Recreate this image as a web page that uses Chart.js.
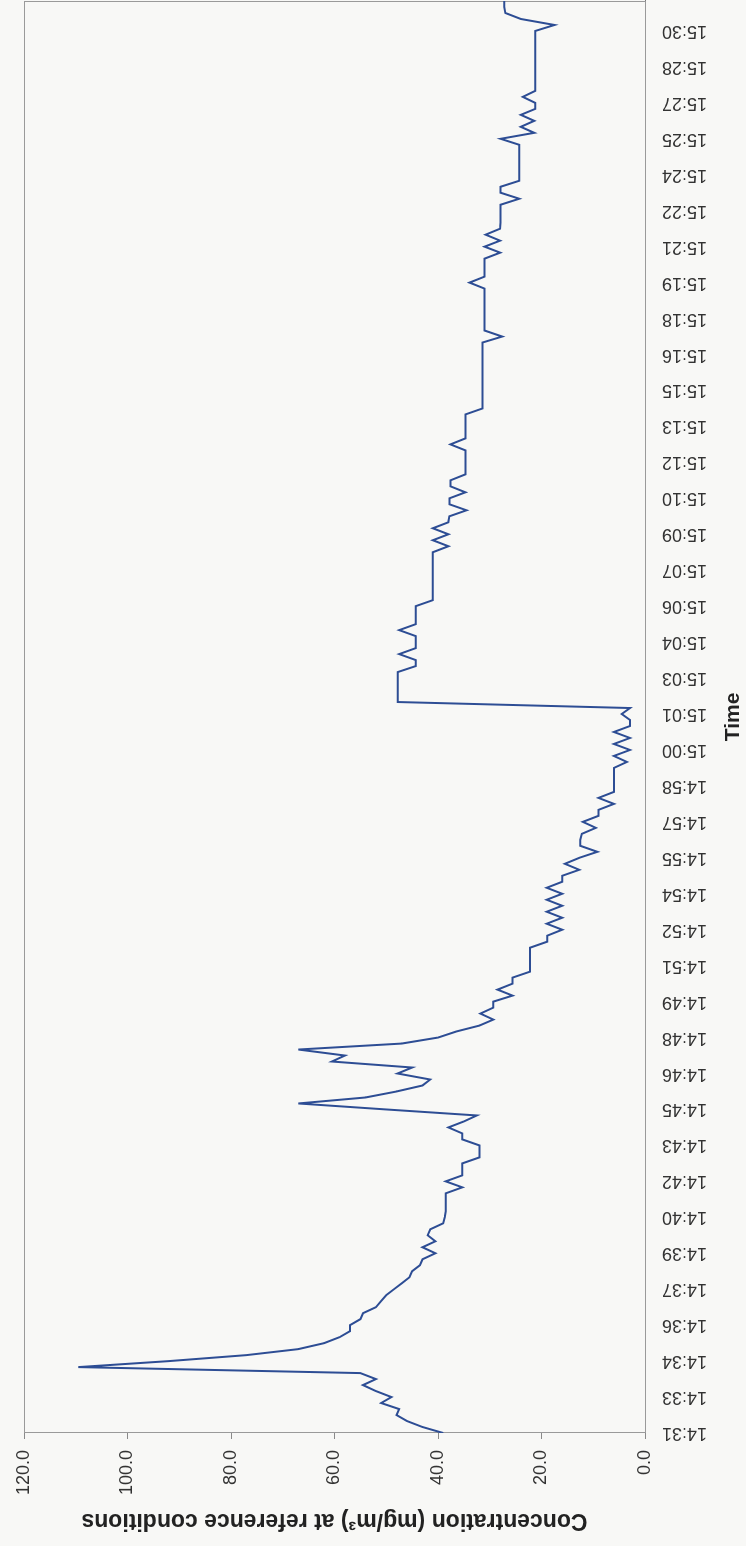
<!DOCTYPE html>
<html lang="en">
<head>
    <meta charset="UTF-8">
    <title>Concentration vs Time</title>
    <script src="https://cdn.jsdelivr.net/npm/chart.js"></script>
    <style>
        html, body {
            margin: 0;
            padding: 0;
            width: 746px;
            height: 1546px;
            overflow: hidden;
            background-color: #f8f8f6; /* scanned paper tone */
        }
        /* the chart is drawn landscape, then turned a quarter turn to the left */
        #wrap {
            position: absolute;
            left: 0;
            top: 0;
            width: 1546px;
            height: 746px;
            transform-origin: 0 0;
            transform: translateY(1546px) rotate(-90deg);
        }
    </style>
</head>
<body>
    <div id="wrap">
        <canvas id="concChart" width="1546" height="746"></canvas>
    </div>

    <script>
        // tick labels on the time axis (one every 90 s)
        const tickLabels = [
            "14:31", "14:33", "14:34", "14:36", "14:37", "14:39", "14:40", "14:42",
            "14:43", "14:45", "14:46", "14:48", "14:49", "14:51", "14:52", "14:54",
            "14:55", "14:57", "14:58", "15:00", "15:01", "15:03", "15:04", "15:06",
            "15:07", "15:09", "15:10", "15:12", "15:13", "15:15", "15:16", "15:18",
            "15:19", "15:21", "15:22", "15:24", "15:25", "15:27", "15:28", "15:30"
        ];
        const samplesPerTick = 6; // readings every 15 s

        // concentration (mg/m3) at reference conditions
        const concentration = [
            39, 43, 46, 48, 47.5, 51, 49, 52, 54.5, 52,
            55, 109.5, 92, 77, 67, 62, 59, 57, 57, 55,
            54.5, 52, 51, 50, 48.5, 47, 45.5, 45, 43.5, 43,
            40.5, 43, 40.5, 42, 41.5, 39, 38.7, 38.5, 38.5, 38.5,
            38.5, 35.3, 38.5, 35.3, 35.3, 35.3, 32, 32, 32, 35.3,
            35.3, 38, 35, 32.5, 50, 67, 54, 48, 43, 41.5,
            47.8, 45, 60.5, 58, 67, 47, 40, 36.5, 32, 29.3,
            31.8, 29.3, 29.3, 25.6, 28.5, 25.6, 25.6, 22.2, 22.2, 22.2,
            22.2, 22.2, 18.9, 18.9, 16, 19, 16, 19, 16, 19,
            16, 19, 16, 16, 12.7, 15.5, 12.7, 9.2, 12.5, 12.5,
            12.2, 9.5, 12, 9, 9, 6, 9, 6, 6, 6,
            6, 6, 3.5, 6, 2.9, 6, 2.9, 6, 2.9, 2.9,
            4.5, 2.9, 47.8, 47.8, 47.8, 47.8, 47.8, 47.8, 44.3, 44.3,
            47.5, 44.3, 44.3, 44.3, 47.5, 44.3, 44.3, 44.3, 44.3, 41,
            41, 41, 41, 41, 41, 41, 41, 41, 38, 41,
            38, 41, 38, 37.8, 34.5, 37.8, 37.8, 34.7, 37.6, 37.6,
            34.7, 34.7, 34.7, 34.7, 34.7, 37.6, 34.7, 34.7, 34.7, 34.7,
            34.7, 31.4, 31.4, 31.4, 31.4, 31.4, 31.4, 31.4, 31.4, 31.4,
            31.4, 31.4, 31.4, 27.6, 31, 31, 31, 31, 31, 31,
            31, 31, 33.9, 31, 31, 31, 31, 28, 31, 28,
            30.8, 28, 27.9, 27.9, 27.9, 27.9, 24.3, 27.9, 27.9, 24.3,
            24.3, 24.3, 24.3, 24.3, 24.3, 24.3, 27.9, 21.4, 24, 21.4,
            24, 21.2, 21.2, 23.6, 21.2, 21.2, 21.2, 21.2, 21.2, 21.2,
            21.2, 21.2, 21.2, 21.2, 21.2, 17.5, 24, 27, 27.2, 27.2
        ];

        const yTicks = { min: 0, max: 120, step: 20 };

        Chart.defaults.font.family = "'Liberation Sans', Arial, sans-serif";
        Chart.defaults.color = '#333';

        // thin frame round the plot area
        const plotFrame = {
            id: 'plotFrame',
            beforeDatasetsDraw(chart) {
                const { ctx, chartArea: a } = chart;
                ctx.save();
                ctx.strokeStyle = '#9a9a9a';
                ctx.lineWidth = 1;
                ctx.strokeRect(a.left + 0.5, a.top + 0.5, a.right - a.left - 1, a.bottom - a.top);
                ctx.restore();
            }
        };

        new Chart(document.getElementById('concChart'), {
            type: 'line',
            data: {
                datasets: [{
                    label: 'Concentration',
                    data: concentration.map((v, i) => ({ x: i, y: v })),
                    borderColor: '#2d4d94',
                    borderWidth: 2,
                    pointRadius: 0,
                    tension: 0,
                    fill: false
                }]
            },
            options: {
                responsive: false,
                animation: false,
                layout: { padding: { top: 24, right: 1, bottom: 0, left: 0 } },
                plugins: {
                    legend: { display: false },
                    tooltip: { enabled: false }
                },
                scales: {
                    x: {
                        type: 'linear',
                        min: 0,
                        max: concentration.length - 1,
                        afterFit: s => {
                            s.height = 101;
                            s.paddingLeft = 0;
                            s.paddingRight = 0;
                        },
                        grid: { display: false, drawTicks: false },
                        border: { display: true, color: '#7a7a7a', width: 1 },
                        ticks: {
                            stepSize: samplesPerTick,
                            includeBounds: false,
                            autoSkip: false,
                            minRotation: 90,
                            maxRotation: 90,
                            padding: 17,
                            font: { size: 18 },
                            callback: v => tickLabels[v / samplesPerTick] ?? ''
                        },
                        title: {
                            display: true,
                            text: 'Time',
                            color: '#222',
                            font: { size: 21, weight: 'bold' },
                            padding: { top: 0, bottom: 0 }
                        }
                    },
                    y: {
                        min: yTicks.min,
                        max: yTicks.max,
                        afterFit: s => { s.width = 113; },
                        grid: {
                            drawOnChartArea: false,
                            drawTicks: true,
                            tickLength: 6,
                            color: '#8a8a8a'
                        },
                        border: { display: true, color: '#7a7a7a', width: 1 },
                        ticks: {
                            stepSize: yTicks.step,
                            padding: 11,
                            font: { size: 18 },
                            callback: v => v.toFixed(1)
                        },
                        title: {
                            display: true,
                            text: 'Concentration (mg/m³) at reference conditions',
                            color: '#222',
                            font: { size: 23, weight: 'bold' },
                            padding: { top: 12, bottom: 0 }
                        }
                    }
                }
            },
            plugins: [plotFrame]
        });
    </script>
</body>
</html>
